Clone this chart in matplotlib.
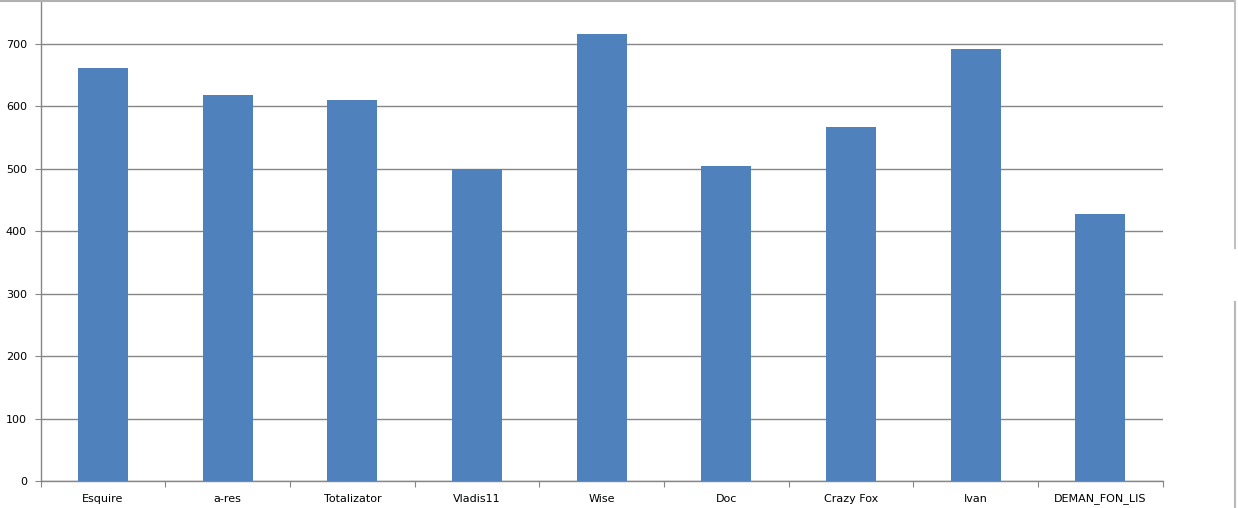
import matplotlib
matplotlib.use("Agg")
import matplotlib.pyplot as plt
import numpy as np

categories = ["Esquire", "a-res", "Totalizator", "Vladis11", "Wise", "Doc", "Crazy Fox", "Ivan", "DEMAN_FON_LIS"]
values = [662, 618, 610, 499, 716, 505, 567, 692, 428]
yticks = [0, 100, 200, 300, 400, 500, 600, 700]

W, H = 1238, 508
fig = plt.figure(figsize=(W/100, H/100), dpi=100)
fig.patch.set_facecolor("white")
x0, x1 = 40.7, 1162.7
y0, y700 = 481, 44
px_per_unit = (y0 - y700) / 700.0
y_top_val = y0 / px_per_unit  # axis reaches the top of the image
ax = fig.add_axes([x0/W, (H-y0)/H, (x1-x0)/W, y0/H])

grid_c = "#868686"
x = np.arange(len(categories))
ax.bar(x, values, width=0.4, color="#4F81BD", zorder=3)
ax.set_xlim(-0.5, len(categories)-0.5)
ax.set_ylim(0, y_top_val)
ax.set_yticks(yticks)
ax.set_yticklabels([str(v) for v in yticks], fontsize=8, color="black")
ax.yaxis.grid(True, color=grid_c, linewidth=1, zorder=0)
for s in ["top", "right"]:
    ax.spines[s].set_visible(False)
for s in ["left", "bottom"]:
    ax.spines[s].set_color(grid_c)
    ax.spines[s].set_linewidth(1)
ax.tick_params(axis="y", length=4, color=grid_c, pad=6)
ax.set_xticks(np.arange(-0.5, len(categories)), minor=False)
ax.set_xticklabels([])
ax.tick_params(axis="x", which="major", length=4, color=grid_c, direction="out")
ax.set_xticks(x, minor=True)
ax.set_xticklabels(categories, minor=True, fontsize=8, color="black")
ax.tick_params(axis="x", which="minor", length=0, pad=9)

# surrounding frame lines of the screenshot
fig.add_artist(plt.Line2D([0, 1235/W], [1-1/H, 1-1/H], color="#b0b0b0", linewidth=1.5))
fig.add_artist(plt.Line2D([1235/W, 1235/W], [1 - 248/H, 1], color="#c0c0c0", linewidth=1.5))
fig.add_artist(plt.Line2D([1235/W, 1235/W], [0, 1 - 302/H], color="#b8b8b8", linewidth=1.5))

fig.savefig("out.png", dpi=100, facecolor="white")
